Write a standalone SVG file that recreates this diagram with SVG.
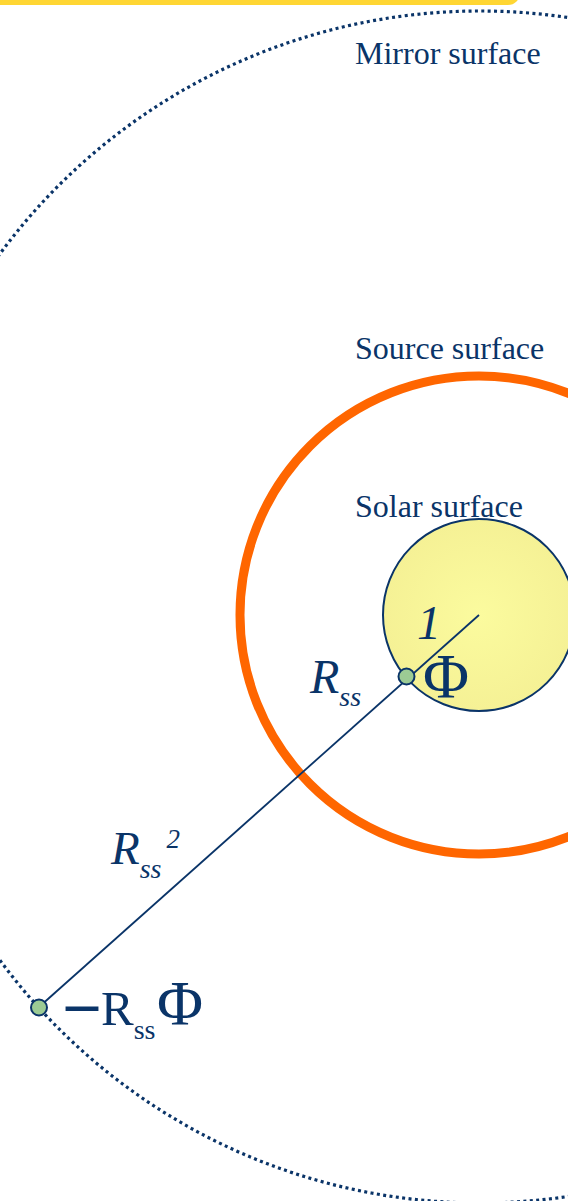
<svg xmlns="http://www.w3.org/2000/svg" width="568" height="1201" viewBox="0 0 568 1201">
<defs>
<radialGradient id="sun" cx="0.5" cy="0.5" r="0.5">
<stop offset="0" stop-color="#FBFB9E"/>
<stop offset="1" stop-color="#F5F195"/>
</radialGradient>
<style>
.lbl{font-family:"Liberation Serif","Times New Roman",serif;fill:#0A3468;font-size:32px}
.math{font-family:"Liberation Serif","Times New Roman",serif;fill:#0A3468}
.it{font-style:italic}
.dot{fill:#9CCB94;stroke:#0A3468;stroke-width:2}
</style>
</defs>
<rect width="568" height="1201" fill="#ffffff"/>
<rect x="-20" y="-20" width="540" height="25" rx="12" fill="#FFD633"/>
<g id="mirror">
<circle cx="480" cy="607" r="596" fill="none" stroke="#0A3468" stroke-width="3.2" stroke-dasharray="3 3.4"/>
<text class="lbl" x="355" y="64">Mirror surface</text>
</g>
<g id="source">
<circle cx="479" cy="615" r="239" fill="none" stroke="#FF6600" stroke-width="9"/>
<text class="lbl" x="355" y="359">Source surface</text>
</g>
<g id="solar">
<circle cx="479" cy="615" r="96" fill="url(#sun)" stroke="#0A3468" stroke-width="2"/>
<text class="lbl" x="355" y="517">Solar surface</text>
</g>
<g id="connectors">
<line x1="479" y1="615" x2="39" y2="1007" stroke="#0A3468" stroke-width="1.8"/>
</g>
<g id="point-inner">
<circle class="dot" cx="406.5" cy="676.5" r="8"/>
<text class="math it" x="417" y="639" font-size="48">1</text>
<text class="math" x="423" y="698" font-size="63">Φ</text>
<text class="math it" x="310" y="693" font-size="48">R<tspan font-size="28" dy="13">ss</tspan></text>
</g>
<g id="label-rss2">
<text class="math it" x="111" y="864" font-size="47">R<tspan font-size="28" dy="14">ss</tspan><tspan font-size="27" dy="-30" dx="5">2</tspan></text>
</g>
<g id="point-mirror">
<circle class="dot" cx="39" cy="1007.5" r="8"/>
<text class="math" x="66" y="1024" font-size="64" font-weight="bold">–</text>
<text class="math" x="101" y="1025" font-size="49">R<tspan font-size="28" dy="14">ss</tspan></text>
<text class="math" x="157" y="1025" font-size="63">Φ</text>
</g>
</svg>
